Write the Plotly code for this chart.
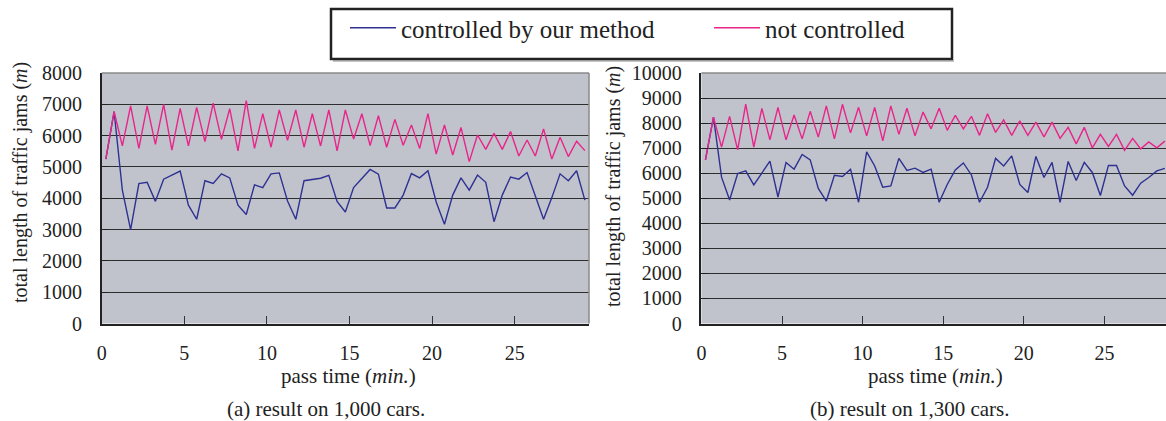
import plotly.graph_objects as go

# ---------------- data ----------------
time_a = [0.25 + 0.5 * i for i in range(59)]
controlled_a = [5250, 6770, 4260, 3000, 4470, 4510, 3900, 4610, 4740, 4870,
                3780, 3330, 4560, 4470, 4780, 4650, 3780, 3480, 4430, 4340,
                4780, 4810, 3910, 3330, 4560, 4610, 4640, 4730, 3900, 3560,
                4340, 4630, 4920, 4770, 3690, 3690, 4100, 4790, 4650, 4880,
                3880, 3170, 4100, 4650, 4260, 4740, 4510, 3250, 4100, 4680,
                4610, 4820, 4100, 3330, 4020, 4780, 4560, 4880, 3940]
notcontrolled_a = [5250, 6770, 5670, 6950, 5590, 6950, 5720, 7000, 5540, 6870,
                   5670, 6900, 5810, 7040, 5880, 6860, 5510, 7120, 5590, 6700,
                   5630, 6820, 5850, 6820, 5630, 6700, 5670, 6820, 5510, 6820,
                   5890, 6700, 5680, 6640, 5630, 6520, 5690, 6340, 5590, 6700,
                   5410, 6340, 5380, 6260, 5170, 6020, 5560, 6070, 5560, 6130,
                   5350, 5860, 5350, 6210, 5250, 5950, 5330, 5820, 5520]

time_b = [0.25 + 0.5 * i for i in range(58)]
controlled_b = [6530, 8240, 5840, 4930, 5990, 6090, 5530, 6030, 6480, 5050,
                6430, 6160, 6750, 6530, 5390, 4890, 5920, 5870, 6160, 4840,
                6850, 6290, 5440, 5490, 6590, 6110, 6200, 6030, 6160, 4840,
                5550, 6130, 6410, 5930, 4840, 5440, 6590, 6290, 6690, 5550,
                5230, 6670, 5830, 6430, 4840, 6470, 5710, 6430, 6030, 5110,
                6310, 6310, 5490, 5120, 5600, 5830, 6090, 6190]
notcontrolled_b = [6530, 8240, 7040, 8270, 6930, 8760, 7040, 8590, 7330, 8630,
                   7330, 8320, 7370, 8470, 7440, 8690, 7370, 8750, 7610, 8630,
                   7490, 8630, 7290, 8690, 7550, 8590, 7490, 8440, 7770, 8590,
                   7710, 8310, 7770, 8270, 7510, 8370, 7630, 8130, 7510, 8090,
                   7510, 8040, 7450, 8040, 7390, 7830, 7170, 7830, 7010, 7550,
                   7070, 7550, 6910, 7390, 6970, 7250, 7010, 7280]

x_ticks = [0, 5, 10, 15, 20, 25]
y_ticks_a = [0, 1000, 2000, 3000, 4000, 5000, 6000, 7000, 8000]
y_ticks_b = [0, 1000, 2000, 3000, 4000, 5000, 6000, 7000, 8000, 9000, 10000]

name_ctrl = "controlled by our method"
name_not = "not controlled"
y_title = "total length of traffic jams (<i>m</i>)"
x_title = "pass time (<i>min.</i>)"
caption_a = "(a) result on 1,000 cars."
caption_b = "(b) result on 1,300 cars."

# ---------------- style ----------------
W, H = 1166, 421
FONT = "Liberation Serif"
BLUE = "#2e3192"
PINK = "#e8258a"
BG = "#c0c3cb"
GRID = "#2e2e2e"
TICK_SIZE = 20

def px(x):
    return x / W

def py(y):
    return 1 - y / H

fig = go.Figure()
fig.add_trace(go.Scatter(x=time_a, y=controlled_a, mode="lines", name=name_ctrl,
                         line=dict(color=BLUE, width=1.4), xaxis="x", yaxis="y"))
fig.add_trace(go.Scatter(x=time_a, y=notcontrolled_a, mode="lines", name=name_not,
                         line=dict(color=PINK, width=1.4), xaxis="x", yaxis="y"))
fig.add_trace(go.Scatter(x=time_b, y=controlled_b, mode="lines", name=name_ctrl,
                         showlegend=False,
                         line=dict(color=BLUE, width=1.4), xaxis="x2", yaxis="y2"))
fig.add_trace(go.Scatter(x=time_b, y=notcontrolled_b, mode="lines", name=name_not,
                         showlegend=False,
                         line=dict(color=PINK, width=1.4), xaxis="x2", yaxis="y2"))

plot_top, plot_bot = 73, 323.5
ydom = [py(plot_bot), py(plot_top)]

common_x = dict(tickvals=x_ticks, ticks="inside", ticklen=8, tickcolor="#333",
                tickwidth=1, showgrid=False, zeroline=False, showline=True,
                linecolor="#222", linewidth=2,
                tickfont=dict(family=FONT, size=TICK_SIZE, color="#222"),
                ticklabelstandoff=10)
common_y = dict(ticks="inside", ticklen=7, tickcolor="#222", tickwidth=1,
                showgrid=True, gridcolor=GRID, gridwidth=1, zeroline=False,
                showline=True, linecolor="#222", linewidth=1.5, tickformat="d",
                tickfont=dict(family=FONT, size=TICK_SIZE, color="#222"),
                ticklabelstandoff=14)

fig.update_layout(
    width=W, height=H,
    margin=dict(l=0, r=0, t=0, b=0, autoexpand=False),
    paper_bgcolor="white",
    plot_bgcolor=BG,
    font=dict(family=FONT, color="#222"),
    showlegend=True,
    legend=dict(orientation="h", x=px(345), y=py(5), xanchor="left", yanchor="top",
                bgcolor="rgba(0,0,0,0)", borderwidth=0,
                font=dict(family=FONT, size=25, color="#222"),
                entrywidth=303, entrywidthmode="pixels", itemwidth=46),
    xaxis=dict(domain=[px(101.7), px(589)], range=[0, 29.5], anchor="y", **common_x),
    yaxis=dict(domain=ydom, range=[0, 8000], tickvals=y_ticks_a, anchor="x", **common_y),
    xaxis2=dict(domain=[px(701.4), 1.0], range=[0, 28.82], anchor="y2", **common_x),
    yaxis2=dict(domain=ydom, range=[0, 10000], tickvals=y_ticks_b, anchor="x2", **common_y),
)

shapes = []
# gray top/right borders of the plot areas
for (x0, x1) in [(101.7, 589), (701.4, 1166)]:
    shapes.append(dict(type="line", xref="paper", yref="paper",
                       x0=px(x0), x1=px(x1), y0=py(plot_top), y1=py(plot_top),
                       line=dict(color="#8a8a8a", width=1.5)))
shapes.append(dict(type="line", xref="paper", yref="paper",
                   x0=px(589), x1=px(589), y0=py(plot_top), y1=py(plot_bot),
                   line=dict(color="#8a8a8a", width=1.5)))
# legend box and its faint shadow
shapes.append(dict(type="line", xref="paper", yref="paper",
                   x0=px(333), x1=px(954), y0=py(61), y1=py(61),
                   line=dict(color="#b0b0b0", width=1.5)))
shapes.append(dict(type="rect", xref="paper", yref="paper",
                   x0=px(331), x1=px(952), y0=py(59), y1=py(9),
                   line=dict(color="#222", width=2.5), fillcolor="rgba(0,0,0,0)"))
fig.update_layout(shapes=shapes)

ann = []
def add_text(text, x, y, size, angle=0):
    ann.append(dict(text=text, x=px(x), y=py(y), xref="paper", yref="paper",
                    xanchor="center", yanchor="middle", showarrow=False,
                    textangle=angle, font=dict(family=FONT, size=size, color="#222")))

add_text(y_title, 20, 183, 20, -90)
add_text(y_title, 614, 187, 20, -90)
add_text(x_title, 348, 376, 21)
add_text(x_title, 935, 376, 21)
add_text(caption_a, 326, 409, 21)
add_text(caption_b, 909, 409, 21)
fig.update_layout(annotations=ann)

fig.write_html("out.html",
               config={"displayModeBar": False},
               post_script="document.body.style.margin='0';document.body.style.padding='0';document.body.style.overflow='hidden';")
